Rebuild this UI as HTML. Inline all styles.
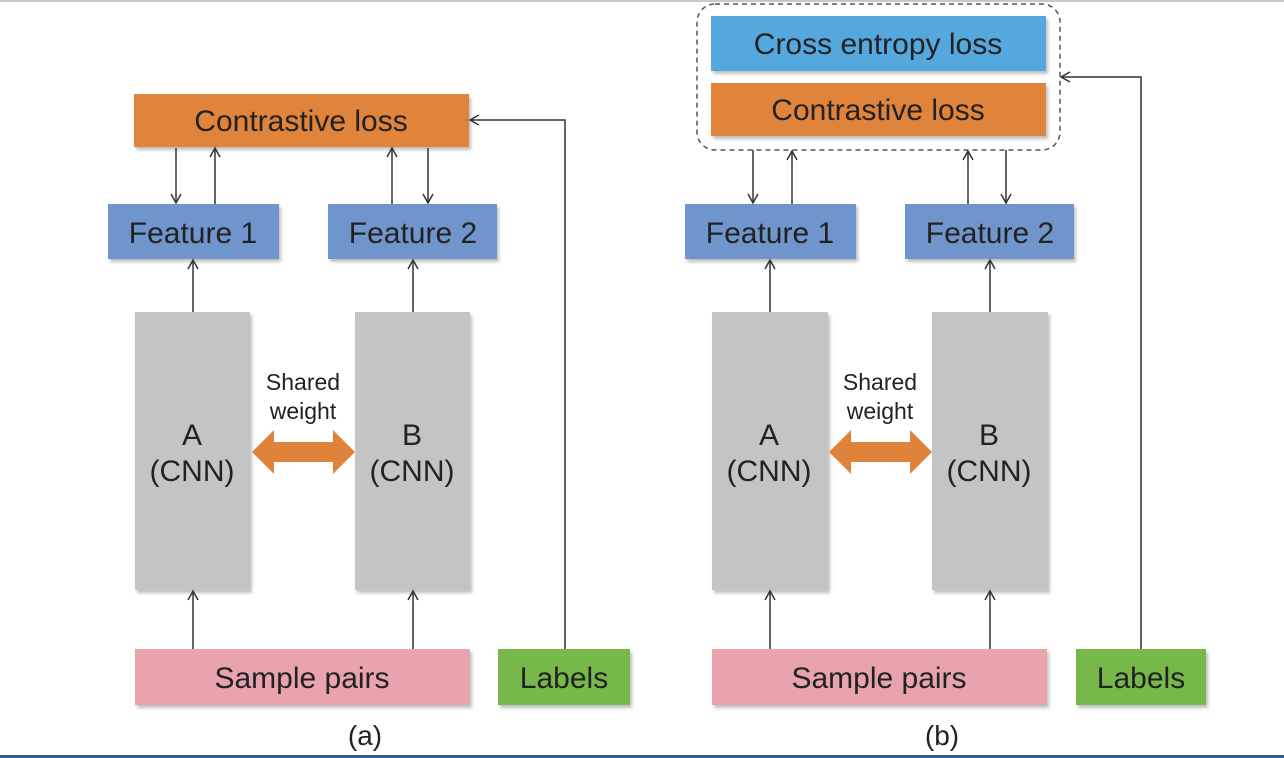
<!DOCTYPE html>
<html><head><meta charset="utf-8"><style>
html,body{margin:0;padding:0;background:#fff}
svg{display:block}
text{font-family:"Liberation Sans",sans-serif;fill:#222}
</style></head><body>
<svg width="1284" height="758" viewBox="0 0 1284 758" xmlns="http://www.w3.org/2000/svg">
<defs>
<marker id="ar" markerWidth="12" markerHeight="12" refX="10" refY="6" orient="auto" markerUnits="userSpaceOnUse">
<path d="M1,1 L10,6 L1,11" fill="none" stroke="#333" stroke-width="1.5"/>
</marker>
<filter id="sh" x="-5%" y="-5%" width="115%" height="125%"><feDropShadow dx="2" dy="3" stdDeviation="1.5" flood-color="#000" flood-opacity="0.25"/></filter>
</defs>
<rect x="0" y="0" width="1284" height="2" fill="#c8c8c8"/>
<rect x="0" y="755" width="1284" height="3" fill="#2d5f8e"/>

<g id="a">
<rect x="134" y="94" width="335" height="53" fill="#e0833a" filter="url(#sh)"/>
<text x="301" y="131" font-size="30" text-anchor="middle">Contrastive loss</text>
<rect x="108" y="204" width="171" height="55" fill="#7095cc" filter="url(#sh)"/>
<text x="193" y="243" font-size="30" text-anchor="middle">Feature 1</text>
<rect x="328" y="204" width="169" height="55" fill="#7095cc" filter="url(#sh)"/>
<text x="413" y="243" font-size="30" text-anchor="middle">Feature 2</text>
<rect x="135" y="312" width="115" height="278" fill="#c4c4c4" filter="url(#sh)"/>
<rect x="355" y="312" width="115" height="278" fill="#c4c4c4" filter="url(#sh)"/>
<text x="192" y="445" font-size="30" text-anchor="middle">A</text>
<text x="192" y="481" font-size="30" text-anchor="middle">(CNN)</text>
<text x="412" y="445" font-size="30" text-anchor="middle">B</text>
<text x="412" y="481" font-size="30" text-anchor="middle">(CNN)</text>
<text x="303" y="390" font-size="23" text-anchor="middle">Shared</text>
<text x="303" y="419" font-size="23" text-anchor="middle">weight</text>
<path d="M252,452 L274,430 L274,442 L333,442 L333,430 L355,452 L333,474 L333,462 L274,462 L274,474 Z" fill="#e0833a"/>
<rect x="135" y="649" width="335" height="56" fill="#e8a3ac" filter="url(#sh)"/>
<text x="302" y="688" font-size="30" text-anchor="middle">Sample pairs</text>
<rect x="498" y="649" width="132" height="56" fill="#76b84a" filter="url(#sh)"/>
<text x="564" y="688" font-size="30" text-anchor="middle">Labels</text>
<text x="365" y="745" font-size="28" text-anchor="middle">(a)</text>
<g stroke="#333" stroke-width="1.5" fill="none" marker-end="url(#ar)">
<line x1="176" y1="148" x2="176" y2="203"/>
<line x1="215" y1="204" x2="215" y2="148"/>
<line x1="392" y1="204" x2="392" y2="148"/>
<line x1="428" y1="148" x2="428" y2="203"/>
<line x1="193" y1="312" x2="193" y2="260"/>
<line x1="413" y1="312" x2="413" y2="260"/>
<line x1="193" y1="649" x2="193" y2="591"/>
<line x1="413" y1="649" x2="413" y2="591"/>
<polyline points="565,649 565,120 470,120"/>
</g>
</g>

<g id="b">
<rect x="697" y="4" width="363" height="146" rx="18" fill="none" stroke="#555" stroke-width="1.5" stroke-dasharray="5,4"/>
<rect x="711" y="16" width="335" height="55" fill="#55a8dd" filter="url(#sh)"/>
<text x="878" y="54" font-size="30" text-anchor="middle">Cross entropy loss</text>
<rect x="711" y="83" width="335" height="53" fill="#e0833a" filter="url(#sh)"/>
<text x="878" y="120" font-size="30" text-anchor="middle">Contrastive loss</text>
<rect x="685" y="204" width="171" height="55" fill="#7095cc" filter="url(#sh)"/>
<text x="770" y="243" font-size="30" text-anchor="middle">Feature 1</text>
<rect x="905" y="204" width="169" height="55" fill="#7095cc" filter="url(#sh)"/>
<text x="990" y="243" font-size="30" text-anchor="middle">Feature 2</text>
<rect x="712" y="312" width="116" height="278" fill="#c4c4c4" filter="url(#sh)"/>
<rect x="932" y="312" width="116" height="278" fill="#c4c4c4" filter="url(#sh)"/>
<text x="769" y="445" font-size="30" text-anchor="middle">A</text>
<text x="769" y="481" font-size="30" text-anchor="middle">(CNN)</text>
<text x="989" y="445" font-size="30" text-anchor="middle">B</text>
<text x="989" y="481" font-size="30" text-anchor="middle">(CNN)</text>
<text x="880" y="390" font-size="23" text-anchor="middle">Shared</text>
<text x="880" y="419" font-size="23" text-anchor="middle">weight</text>
<path d="M829,452 L851,430 L851,442 L910,442 L910,430 L932,452 L910,474 L910,462 L851,462 L851,474 Z" fill="#e0833a"/>
<rect x="712" y="649" width="335" height="56" fill="#e8a3ac" filter="url(#sh)"/>
<text x="879" y="688" font-size="30" text-anchor="middle">Sample pairs</text>
<rect x="1076" y="649" width="130" height="56" fill="#76b84a" filter="url(#sh)"/>
<text x="1141" y="688" font-size="30" text-anchor="middle">Labels</text>
<text x="942" y="745" font-size="28" text-anchor="middle">(b)</text>
<g stroke="#333" stroke-width="1.5" fill="none" marker-end="url(#ar)">
<line x1="753" y1="150" x2="753" y2="203"/>
<line x1="792" y1="204" x2="792" y2="151"/>
<line x1="968" y1="204" x2="968" y2="151"/>
<line x1="1006" y1="150" x2="1006" y2="203"/>
<line x1="770" y1="312" x2="770" y2="260"/>
<line x1="990" y1="312" x2="990" y2="260"/>
<line x1="770" y1="649" x2="770" y2="591"/>
<line x1="990" y1="649" x2="990" y2="591"/>
<polyline points="1141,649 1141,77 1061,77"/>
</g>
</g>
</svg>
</body></html>
